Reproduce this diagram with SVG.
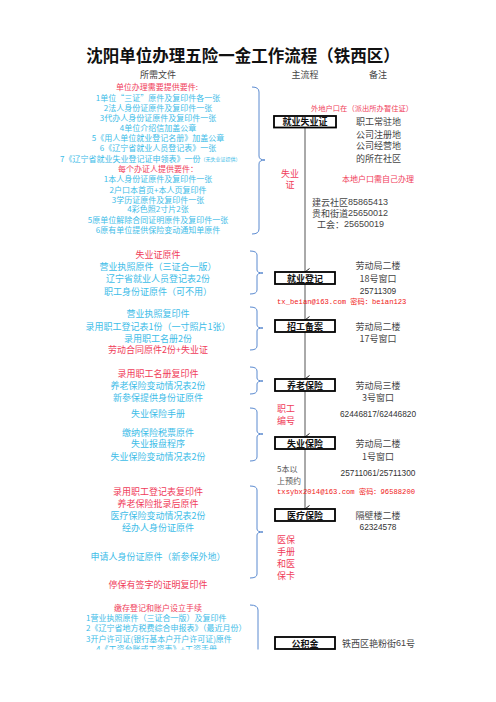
<svg xmlns="http://www.w3.org/2000/svg" width="496" height="702" viewBox="0 0 496 702">
<style>
text{font-family:"Noto Sans CJK SC","Liberation Sans",sans-serif;dominant-baseline:central}
.t{font-size:16.5px;font-weight:bold;fill:#111;text-anchor:middle}
.h{font-size:9px;fill:#444;text-anchor:middle}
.b{font-size:9px;fill:#3dbde8;text-anchor:middle}
.r{font-size:9px;fill:#f03c5a;text-anchor:middle}
.bs{font-size:8px;fill:#3dbde8;text-anchor:middle}
.rs{font-size:8px;fill:#f03c5a;text-anchor:middle}
.g{font-size:9px;fill:#444}
.gm{font-size:9px;fill:#444;text-anchor:middle}
.n{font-family:"Liberation Sans",sans-serif;font-size:8.3px;fill:#333;text-anchor:middle}
.m{font-family:"Liberation Mono","Noto Sans CJK SC",monospace;font-size:7.2px;fill:#f02020}
.bx{font-size:9px;font-weight:bold;fill:#111;text-anchor:middle}
.box{fill:#fff;stroke:#000;stroke-width:1.8}
.br{fill:none;stroke:#5a8ad0;stroke-width:1}
.ln{stroke:#555;stroke-width:1;fill:none}
</style>
<defs>
<marker id="ah" markerWidth="8" markerHeight="6" refX="4" refY="5" orient="auto-start-reverse" markerUnits="userSpaceOnUse" viewBox="0 0 8 6">
<path d="M0.5,0.5 L4,5 L7.5,0.5" fill="none" stroke="#222" stroke-width="1"/>
</marker>
<clipPath id="cp"><rect x="0" y="0" width="496" height="649.5"/></clipPath>
</defs>
<rect width="496" height="702" fill="#fff"/>
<text class="t" x="243" y="55">沈阳单位办理五险一金工作流程（铁西区）</text>
<text class="h" x="158" y="74">所需文件</text>
<text class="h" x="305" y="74">主流程</text>
<text class="h" x="378" y="74">备注</text>

<g id="docs1">
<text class="rs" x="157" y="86">单位办理需要提供要件:</text>
<text class="bs" x="158" y="97">1单位“三证”原件及复印件各一张</text>
<text class="bs" x="158" y="107">2法人身份证原件及复印件一张</text>
<text class="bs" x="158" y="117">3代办人身份证原件及复印件一张</text>
<text class="bs" x="158" y="127">4单位介绍信加盖公章</text>
<text class="bs" x="158" y="137">5《用人单位就业登记名册》加盖公章</text>
<text class="bs" x="158" y="147">6《辽宁省就业人员登记表》一张</text>
<text class="bs" x="60" y="158" style="text-anchor:start">7《辽宁省就业失业登记证申领表》一份<tspan font-size="5">（无失业证提供）</tspan></text>
<text class="rs" x="158" y="168">每个办证人提供要件：</text>
<text class="bs" x="158" y="178">1本人身份证原件及复印件一张</text>
<text class="bs" x="158" y="189">2户口本首页+本人页复印件</text>
<text class="bs" x="158" y="199">3学历证原件及复印件一张</text>
<text class="bs" x="158" y="208">4彩色照2寸片2张</text>
<text class="bs" x="158" y="219">5原单位解除合同证明原件及复印件一张</text>
<text class="bs" x="158" y="229">6原有单位提供保险变动通知单原件</text>
</g>

<g id="docs2">
<text class="r" x="158" y="254">失业证原件</text>
<text class="b" x="158" y="266">营业执照原件（三证合一版）</text>
<text class="b" x="158" y="278">辽宁省就业人员登记表2份</text>
<text class="b" x="158" y="291">职工身份证原件（可不用）</text>
</g>
<g id="docs3">
<text class="b" x="158" y="313">营业执照复印件</text>
<text class="b" x="158" y="326">录用职工登记表1份（一寸照片1张）</text>
<text class="b" x="158" y="338">录用职工名册2份</text>
<text class="r" x="158" y="349">劳动合同原件2份+失业证</text>
</g>
<g id="docs4">
<text class="r" x="158" y="373">录用职工名册复印件</text>
<text class="b" x="158" y="385">养老保险变动情况表2份</text>
<text class="b" x="158" y="397">新参保提供身份证原件</text>
</g>
<g id="docs5">
<text class="b" x="158" y="413">失业保险手册</text>
<text class="b" x="158" y="432">缴纳保险税票原件</text>
<text class="b" x="158" y="443">失业报盘程序</text>
<text class="b" x="158" y="456">失业保险变动情况表2份</text>
</g>
<g id="docs6">
<text class="r" x="158" y="491">录用职工登记表复印件</text>
<text class="r" x="158" y="503">养老保险批录后原件</text>
<text class="b" x="158" y="515">医疗保险变动情况表2份</text>
<text class="b" x="158" y="527">经办人身份证原件</text>
<text class="b" x="158" y="556">申请人身份证原件（新参保外地）</text>
<text class="r" x="158" y="584">停保有签字的证明复印件</text>
</g>
<g id="docs7" clip-path="url(#cp)">
<text class="rs" x="158" y="607">缴存登记和账户设立手续</text>
<text class="bs" x="86" y="617" style="text-anchor:start">1营业执照原件（三证合一版）及复印件</text>
<text class="bs" x="86" y="627" style="text-anchor:start">2《辽宁省地方税费综合申报表》（最近月份）</text>
<text class="bs" x="86" y="638" style="text-anchor:start">3开户许可证(银行基本户开户许可证)原件</text>
<text class="bs" x="96" y="648" style="text-anchor:start">4《工资台账或工资表》+工资手册</text>
<path class="br" d="M250,605 Q258,605 258,610 L258,652"/>
</g>

<g id="brackets">
<path class="br" d="M252,87 Q259,87 259,92 L259,156 Q259,160 265,160 Q259,160 259,164 L259,229 Q259,234 252,234"/>
<path class="br" d="M250,251 Q257,251 257,255 L257,270 Q257,273 263,273 Q257,273 257,276 L257,290 Q257,294 250,294"/>
<path class="br" d="M250,307 Q257,307 257,311 L257,325 Q257,328 263,328 Q257,328 257,331 L257,346 Q257,350 250,350"/>
<path class="br" d="M250,367 Q257,367 257,371 L257,378 Q257,381 263,381 Q257,381 257,384 L257,390 Q257,394 250,394"/>
<path class="br" d="M250,408 Q257,408 257,412 L257,431 Q257,434 263,434 Q257,434 257,437 L257,457 Q257,461 250,461"/>
<path class="br" d="M250,486 Q257,486 257,490 L257,529 Q257,532 263,532 Q257,532 257,535 L257,574 Q257,578 250,578"/>
</g>

<g id="connectors">
<line class="ln" x1="305" y1="127" x2="305" y2="272" marker-end="url(#ah)"/>
<line class="ln" x1="305" y1="284" x2="305" y2="320" marker-end="url(#ah)"/>
<line class="ln" x1="305" y1="332" x2="305" y2="379" marker-end="url(#ah)"/>
<line class="ln" x1="305" y1="391" x2="305" y2="437" marker-end="url(#ah)"/>
<line class="ln" x1="305" y1="449" x2="305" y2="509" marker-end="url(#ah)"/>
</g>

<g id="n1">
<rect class="box" x="274" y="116" width="62" height="11.5"/>
<text class="bx" x="305" y="121.8">就业失业证</text>
</g>
<g id="n2">
<rect class="box" x="275" y="272" width="60" height="12"/>
<text class="bx" x="305" y="278">就业登记</text>
</g>
<g id="n3">
<rect class="box" x="275" y="320" width="60" height="12"/>
<text class="bx" x="305" y="326">招工备案</text>
</g>
<g id="n4">
<rect class="box" x="275" y="379" width="60" height="12"/>
<text class="bx" x="305" y="385">养老保险</text>
</g>
<g id="n5">
<rect class="box" x="275" y="437" width="60" height="12"/>
<text class="bx" x="305" y="443">失业保险</text>
</g>
<g id="n6">
<rect class="box" x="275" y="509" width="60" height="12"/>
<text class="bx" x="305" y="515">医疗保险</text>
</g>
<g id="n7">
<rect class="box" x="275" y="637" width="60" height="12"/>
<text class="bx" x="305" y="643">公积金</text>
</g>

<g id="notes">
<text x="362" y="108" style="font-size:7.3px;fill:#f03c5a;text-anchor:middle">外地户口在（派出所办暂住证）</text>
<text class="g" x="356" y="121">职工常驻地</text>
<text class="g" x="356" y="134">公司注册地</text>
<text class="g" x="356" y="145">公司经营地</text>
<text class="g" x="356" y="158">的所在社区</text>
<text class="r" x="290" y="173">失业</text>
<text class="r" x="290" y="184">证</text>
<text class="rs" x="378" y="178">本地户口需自己办理</text>
<text class="g" x="312" y="202">建云社区<tspan font-family="Liberation Sans">85865413</tspan></text>
<text class="g" x="312" y="213">贵和街道<tspan font-family="Liberation Sans">25650012</tspan></text>
<text class="g" x="317" y="224">工会：<tspan font-family="Liberation Sans">25650019</tspan></text>

<text class="gm" x="378" y="265">劳动局二楼</text>
<text class="gm" x="378" y="278">18号窗口</text>
<text class="n" x="378" y="291">25711309</text>
<text class="m" x="277" y="302">tx_beian@163.com 密码：beian123</text>

<text class="gm" x="378" y="326">劳动局二楼</text>
<text class="gm" x="378" y="338">17号窗口</text>

<text class="gm" x="378" y="385">劳动局三楼</text>
<text class="gm" x="378" y="397">3号窗口</text>
<text class="r" x="286" y="408">职工</text>
<text class="r" x="286" y="420">编号</text>
<text class="n" x="378" y="414">62446817/62446820</text>

<text class="gm" x="378" y="443">劳动局二楼</text>
<text class="gm" x="378" y="456">1号窗口</text>
<text x="277" y="468" style="font-size:8px;fill:#555">5本以</text>
<text x="277" y="480" style="font-size:8px;fill:#555">上预约</text>
<text class="n" x="378" y="473">25711061/25711300</text>
<text class="m" x="277" y="492">txsybx2014@163.com 密码：96588200</text>

<text class="gm" x="378" y="515">隔壁楼二楼</text>
<text class="n" x="378" y="527">62324578</text>
<text class="r" x="286" y="539">医保</text>
<text class="r" x="286" y="551">手册</text>
<text class="r" x="286" y="563">和医</text>
<text class="r" x="286" y="575">保卡</text>

<text class="g" x="342" y="643">铁西区艳粉街<tspan font-family="Liberation Sans">61</tspan>号</text>
</g>
</svg>
